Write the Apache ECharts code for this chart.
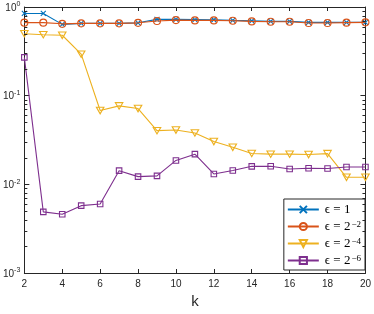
<!DOCTYPE html>
<html>
<head>
<meta charset="utf-8">
<script src="https://cdn.jsdelivr.net/npm/echarts@6/dist/echarts.min.js"></script>
<style>html,body{margin:0;padding:0;background:#fff;}#c{width:374px;height:314px;}</style>
</head>
<body>
<div id="c"></div>
<script>
const ks = [2,3,4,5,6,7,8,9,10,11,12,13,14,15,16,17,18,19,20];
const eps1 = [0.846,0.846,0.637,0.654,0.654,0.654,0.663,0.725,0.725,0.722,0.718,0.706,0.697,0.688,0.688,0.671,0.671,0.671,0.671];
const eps2 = [0.666,0.666,0.646,0.654,0.654,0.654,0.663,0.694,0.712,0.706,0.706,0.701,0.688,0.683,0.683,0.659,0.659,0.666,0.671];
const eps4 = [0.50,0.487,0.48,0.294,0.068,0.0767,0.0716,0.0403,0.041,0.038,0.0304,0.0262,0.0223,0.0219,0.0219,0.0217,0.0222,0.0120,0.0120];
const eps6 = [0.27,0.00489,0.0046,0.00575,0.0060,0.01426,0.01222,0.01245,0.0186,0.0219,0.0131,0.0143,0.01596,0.0160,0.0149,0.0152,0.0151,0.0157,0.0157];
const names = ['e0','e2','e4','e6'];
const sups = ['', '−2', '−4', '−6'];
const xTicks = [2,4,6,8,10,12,14,16,18,20];
const minorVals = [];
[0.001,0.01,0.1].forEach(function(d){for(let m=2;m<=9;m++) minorVals.push(+(d*m).toPrecision(3));});

const colors = ['#0072BD','#D95319','#EDB120','#7E2F8E'];
const symbols = [
  'path://M0,0L10,10M10,0L0,10',
  'circle',
  'path://M0,0L10,0L5,8.66Z',
  'rect'
];
const sizes = [5, 7, [7.5, 6.5], 5.5];
const allData = [eps1, eps2, eps4, eps6];

const series = allData.map(function(arr, i){
  return {
    name: names[i],
    type: 'line',
    data: ks.map(function(k, j){return [k, arr[j]];}),
    symbol: symbols[i],
    symbolSize: sizes[i],
    showAllSymbol: true,
    lineStyle: {color: colors[i], width: 1.1},
    itemStyle: {color: 'rgba(255,255,255,0)', borderColor: colors[i], borderWidth: 1.1},
    emphasis: {disabled: true},
    animation: false,
    z: 2 + i
  };
});

series.push({
  type: 'custom',
  name: 'minor',
  silent: true,
  animation: false,
  data: minorVals.map(function(v){return [2, v];}),
  renderItem: function(params, api){
    const v = api.value(1);
    const p0 = api.coord([2, v]);
    const p1 = api.coord([20, v]);
    const st = {stroke: '#262626', lineWidth: 1};
    return {type: 'group', children: [
      {type: 'line', shape: {x1: p0[0], y1: Math.round(p0[1])+0.5, x2: p0[0]+3, y2: Math.round(p0[1])+0.5}, style: st},
      {type: 'line', shape: {x1: p1[0]-3, y1: Math.round(p1[1])+0.5, x2: p1[0], y2: Math.round(p1[1])+0.5}, style: st}
    ]};
  },
  z: 10
});

const axisColor = '#262626';
const chart = echarts.init(document.getElementById('c'), null, {renderer: 'canvas'});
chart.setOption({
  backgroundColor: '#fff',
  animation: false,
  grid: {left: 23, right: 8, top: 7, bottom: 38, containLabel: false},
  xAxis: [{
    type: 'value', min: 2, max: 20, interval: 2,
    axisLine: {lineStyle: {color: axisColor, width: 1}},
    axisTick: {inside: true, length: 4, lineStyle: {color: axisColor}},
    axisLabel: {color: '#262626', fontSize: 10, fontFamily: 'Liberation Sans, Arial, sans-serif', margin: 6},
    splitLine: {show: false},
    name: 'k', nameLocation: 'middle', nameGap: 21,
    nameTextStyle: {color: '#262626', fontSize: 15, fontFamily: 'Liberation Sans, Arial, sans-serif'}
  },{
    type: 'value', min: 2, max: 20, interval: 2, position: 'top',
    axisLine: {show: true, onZero: false, lineStyle: {color: axisColor, width: 1}},
    axisTick: {inside: true, length: 4, lineStyle: {color: axisColor}},
    axisLabel: {show: false},
    splitLine: {show: false}
  }],
  yAxis: [{
    type: 'log', logBase: 10, min: 0.001, max: 1,
    axisLine: {show: true, lineStyle: {color: axisColor, width: 1}},
    axisTick: {show: true, inside: true, length: 5, lineStyle: {color: axisColor}},
    splitLine: {show: false},
    axisLabel: {
      margin: 4,
      formatter: function(v){
        const e = Math.round(Math.log10(v));
        return '{b|10}{s|' + (e === 0 ? '0' : '-' + (-e)) + '}';
      },
      rich: {
        b: {fontSize: 10, color: '#262626', fontFamily: 'Liberation Sans, Arial, sans-serif', verticalAlign: 'bottom', lineHeight: 12},
        s: {fontSize: 7, color: '#262626', fontFamily: 'Liberation Sans, Arial, sans-serif', verticalAlign: 'top', padding: [0,0,6,0], lineHeight: 12}
      }
    }
  },{
    type: 'log', logBase: 10, min: 0.001, max: 1, position: 'right',
    axisLine: {show: true, onZero: false, lineStyle: {color: axisColor, width: 1}},
    axisTick: {show: true, inside: true, length: 5, lineStyle: {color: axisColor}},
    axisLabel: {show: false},
    splitLine: {show: false}
  }],
  legend: {
    show: true,
    data: names,
    orient: 'vertical',
    right: 9, bottom: 44,
    itemWidth: 31, itemHeight: 9, itemGap: 4,
    padding: [4, 4, 3, 3],
    backgroundColor: '#fff',
    borderColor: '#262626', borderWidth: 1, borderRadius: 0,
    selectedMode: false,
    formatter: function(n){
      const i = names.indexOf(n);
      if (i === 0) return '{t|ϵ = 1}';
      return '{t|ϵ = 2}{s|' + sups[i] + '}';
    },
    textStyle: {
      rich: {
        t: {fontSize: 13, fontFamily: 'Liberation Serif, Times New Roman, serif', color: '#000', lineHeight: 12, padding: [0, 0, 0, 1]},
        s: {fontSize: 9, fontFamily: 'Liberation Serif, Times New Roman, serif', color: '#000', verticalAlign: 'top', lineHeight: 4, padding: [0, 0, 0, 1]}
      }
    }
  },
  series: series
});
</script>
</body>
</html>
